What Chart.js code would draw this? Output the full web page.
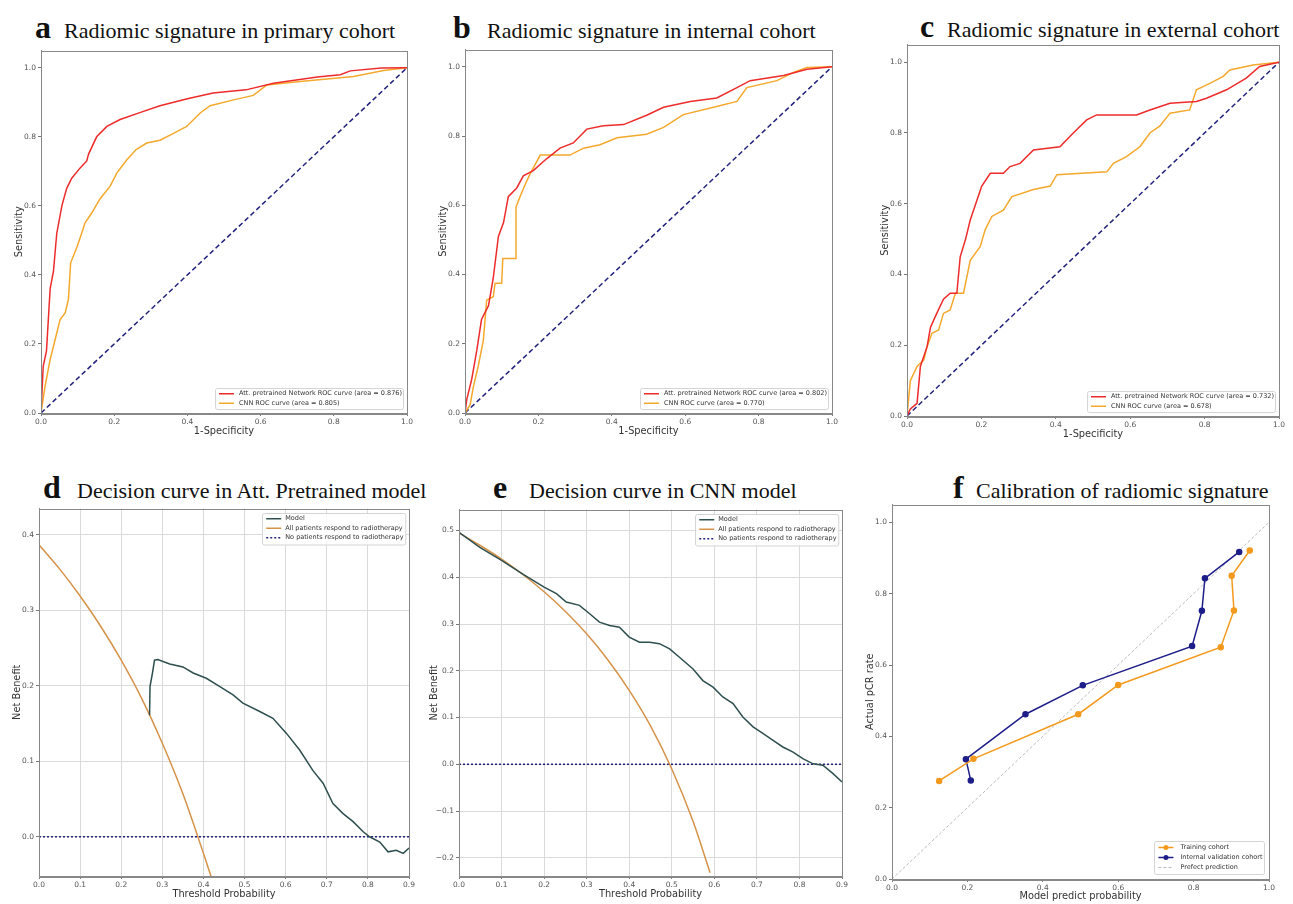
<!DOCTYPE html>
<html>
<head>
<meta charset="utf-8">
<script src="https://cdn.jsdelivr.net/npm/chart.js@4.4.0/dist/chart.umd.min.js"></script>
<style>
  body { margin: 0; background: #fff; width: 1293px; height: 904px; position: relative; overflow: hidden; }
  .panel { position: absolute; }
  .letter, .ttl { position: absolute; font-family: "Liberation Serif", serif; color: #111; white-space: nowrap; line-height: 1; }
  .letter { font-size: 32px; font-weight: bold; }
  .ttl { font-size: 22px; }
</style>
</head>
<body>
<script>
// ---- ROC curves ----
var aAttFpr = [0, 0.006, 0.015, 0.025, 0.034, 0.043, 0.057, 0.07, 0.084, 0.107, 0.125, 0.13, 0.152, 0.18, 0.216, 0.27, 0.325, 0.40, 0.47, 0.56, 0.635, 0.755, 0.818, 0.845, 0.93, 1];
var aAttTpr = [0, 0.135, 0.18, 0.36, 0.41, 0.52, 0.60, 0.65, 0.68, 0.71, 0.73, 0.75, 0.80, 0.83, 0.85, 0.87, 0.89, 0.91, 0.927, 0.936, 0.955, 0.973, 0.98, 0.991, 0.999, 1];
var aCnnFpr = [0, 0.011, 0.025, 0.038, 0.052, 0.066, 0.075, 0.081, 0.098, 0.111, 0.12, 0.139, 0.161, 0.189, 0.207, 0.234, 0.26, 0.289, 0.325, 0.362, 0.398, 0.435, 0.462, 0.526, 0.58, 0.617, 0.708, 0.854, 0.936, 1];
var aCnnTpr = [0, 0.077, 0.155, 0.21, 0.27, 0.29, 0.33, 0.435, 0.48, 0.52, 0.55, 0.58, 0.62, 0.657, 0.695, 0.733, 0.763, 0.782, 0.79, 0.81, 0.83, 0.869, 0.89, 0.907, 0.92, 0.95, 0.96, 0.975, 0.992, 1];

var bAttFpr = [0, 0.005, 0.018, 0.032, 0.045, 0.064, 0.077, 0.091, 0.105, 0.118, 0.141, 0.159, 0.186, 0.223, 0.259, 0.295, 0.332, 0.377, 0.432, 0.495, 0.541, 0.614, 0.686, 0.741, 0.777, 0.868, 0.932, 1];
var bAttTpr = [0, 0.04, 0.096, 0.18, 0.27, 0.31, 0.39, 0.51, 0.55, 0.625, 0.65, 0.685, 0.70, 0.735, 0.765, 0.78, 0.82, 0.83, 0.833, 0.86, 0.883, 0.90, 0.91, 0.94, 0.96, 0.975, 0.993, 1];
var bCnnFpr = [0, 0.014, 0.023, 0.036, 0.05, 0.059, 0.077, 0.082, 0.1, 0.103, 0.139, 0.139, 0.15, 0.164, 0.177, 0.205, 0.286, 0.323, 0.368, 0.414, 0.495, 0.541, 0.595, 0.677, 0.741, 0.768, 0.85, 0.895, 0.932, 1];
var bCnnTpr = [0, 0.024, 0.077, 0.135, 0.21, 0.326, 0.336, 0.375, 0.375, 0.446, 0.446, 0.595, 0.625, 0.66, 0.69, 0.745, 0.745, 0.765, 0.775, 0.795, 0.805, 0.825, 0.862, 0.883, 0.90, 0.94, 0.96, 0.984, 0.998, 1];

var cAttFpr = [0, 0.009, 0.027, 0.036, 0.054, 0.063, 0.08, 0.098, 0.116, 0.134, 0.143, 0.157, 0.17, 0.188, 0.201, 0.224, 0.259, 0.277, 0.304, 0.34, 0.411, 0.447, 0.483, 0.51, 0.617, 0.653, 0.707, 0.778, 0.805, 0.859, 0.912, 0.948, 1];
var cAttTpr = [0, 0.02, 0.036, 0.14, 0.196, 0.25, 0.29, 0.33, 0.347, 0.347, 0.45, 0.498, 0.554, 0.61, 0.65, 0.686, 0.686, 0.705, 0.714, 0.752, 0.761, 0.80, 0.837, 0.851, 0.851, 0.865, 0.884, 0.889, 0.898, 0.922, 0.955, 0.988, 1];
var cCnnFpr = [0, 0.009, 0.027, 0.045, 0.054, 0.067, 0.085, 0.098, 0.116, 0.13, 0.152, 0.17, 0.197, 0.21, 0.228, 0.259, 0.282, 0.34, 0.385, 0.403, 0.537, 0.555, 0.59, 0.626, 0.653, 0.68, 0.707, 0.76, 0.778, 0.814, 0.85, 0.868, 0.93, 1];
var cCnnTpr = [0, 0.10, 0.14, 0.158, 0.196, 0.234, 0.243, 0.29, 0.30, 0.347, 0.347, 0.44, 0.479, 0.526, 0.564, 0.582, 0.62, 0.64, 0.65, 0.682, 0.69, 0.714, 0.733, 0.761, 0.80, 0.82, 0.856, 0.865, 0.922, 0.94, 0.96, 0.978, 0.992, 1];

var chanceX = [0, 1];
var chanceY = [0, 1];

// ---- decision curves ----
var dThr = [0, 0.05, 0.1, 0.15, 0.2, 0.25, 0.3, 0.35, 0.4, 0.42];
var dAll = [0.387, 0.355, 0.319, 0.279, 0.234, 0.183, 0.124, 0.057, -0.022, -0.055];
var dModelThr = [0.269, 0.27, 0.276, 0.281, 0.289, 0.318, 0.35, 0.375, 0.407, 0.44, 0.472, 0.496, 0.537, 0.569, 0.602, 0.634, 0.666, 0.691, 0.715, 0.739, 0.764, 0.788, 0.804, 0.829, 0.849, 0.869, 0.886, 0.9];
var dModelNB = [0.161, 0.199, 0.217, 0.234, 0.235, 0.229, 0.225, 0.217, 0.21, 0.199, 0.188, 0.177, 0.166, 0.157, 0.137, 0.115, 0.088, 0.071, 0.044, 0.031, 0.02, 0.007, 0, -0.007, -0.02, -0.018, -0.022, -0.015];

var eThr = [0, 0.05, 0.1, 0.15, 0.2, 0.25, 0.3, 0.35, 0.4, 0.45, 0.5, 0.55, 0.59];
var eAll = [0.495, 0.468, 0.439, 0.406, 0.369, 0.327, 0.279, 0.223, 0.158, 0.082, -0.01, -0.122, -0.232];
var eModelThr = [0, 0.049, 0.1, 0.15, 0.2, 0.229, 0.252, 0.283, 0.307, 0.33, 0.354, 0.377, 0.4, 0.424, 0.448, 0.471, 0.495, 0.518, 0.55, 0.573, 0.597, 0.62, 0.644, 0.667, 0.691, 0.714, 0.738, 0.761, 0.785, 0.808, 0.832, 0.855, 0.879, 0.9];
var eModelNB = [0.496, 0.464, 0.436, 0.407, 0.379, 0.365, 0.347, 0.34, 0.322, 0.304, 0.297, 0.293, 0.272, 0.261, 0.261, 0.258, 0.247, 0.229, 0.204, 0.179, 0.165, 0.144, 0.13, 0.101, 0.08, 0.066, 0.051, 0.037, 0.026, 0.012, 0.001, -0.002, -0.02, -0.038];

var noneX = [0, 0.9];
var noneY = [0, 0];

// ---- calibration ----
var fTrainPred = [0.125, 0.216, 0.494, 0.6, 0.872, 0.907, 0.901, 0.949];
var fTrainObs = [0.275, 0.337, 0.462, 0.544, 0.65, 0.753, 0.85, 0.921];
var fValPred = [0.209, 0.196, 0.354, 0.506, 0.796, 0.822, 0.83, 0.921];
var fValObs = [0.276, 0.336, 0.462, 0.543, 0.653, 0.752, 0.843, 0.917];

// ---- ticks ----
var rocTicks = [0, 0.2, 0.4, 0.6, 0.8, 1.0];
var dcaXTicks = [0, 0.1, 0.2, 0.3, 0.4, 0.5, 0.6, 0.7, 0.8, 0.9];
var dYTicks = [0, 0.1, 0.2, 0.3, 0.4];
var eYTicks = [-0.2, -0.1, 0, 0.1, 0.2, 0.3, 0.4, 0.5];

var RED = '#ee2b2b', ORANGE = '#f4a82c', NAVY = '#23237e', SLATE = '#2f4f4f', TAN = '#d59249';

function pts(xs, ys) { return xs.map(function (x, i) { return { x: x, y: ys[i] }; }); }
function fmt(v) { return v < 0 ? '\u2212' + Math.abs(v).toFixed(1) : v.toFixed(1); }

function line(label, xs, ys, color, extra) {
  var d = { label: label, data: pts(xs, ys), borderColor: color, backgroundColor: color,
    borderWidth: 1.5, pointRadius: 0, showLine: true, fill: false };
  for (var k in extra) d[k] = extra[k];
  return d;
}

function axis(horiz, min, max, ticks, title, grid, size) {
  return {
    type: 'linear', min: min, max: max,
    afterBuildTicks: function (s) { s.ticks = ticks.map(function (v) { return { value: v }; }); },
    afterFit: function (s) { if (horiz) s.height = size; else s.width = size; },
    ticks: { font: { size: 7.5, family: 'DejaVu Sans' }, color: '#555', padding: 2, autoSkip: false, maxRotation: 0,
      callback: function (v) { return fmt(v); } },
    grid: { drawOnChartArea: grid, color: '#dadada', tickLength: 3, tickColor: '#777' },
    border: { color: '#888' },
    title: { display: true, text: title, font: { size: 9.8, family: 'DejaVu Sans' }, color: '#333', padding: { top: 0, bottom: 0 } }
  };
}

// frame round the plot and a matplotlib-like legend inside it
var framePlugin = {
  id: 'framePlugin',
  afterDraw: function (chart, args, o) {
    var ctx = chart.ctx, a = chart.chartArea;
    ctx.save();
    ctx.strokeStyle = '#888'; ctx.lineWidth = 1;
    ctx.strokeRect(Math.round(a.left) + 0.5, Math.round(a.top) + 0.5, Math.round(a.right - a.left), Math.round(a.bottom - a.top));
    var items = chart.data.datasets.filter(function (d) { return d.label; });
    ctx.font = o.size + 'px "DejaVu Sans"';
    var tw = Math.max.apply(null, items.map(function (d) { return ctx.measureText(d.label).width; }));
    var w = o.pad * 2 + o.line + o.gap + tw + 3, h = o.pad * 2 + items.length * o.row;
    var x = o.corner[1] === 'r' ? a.right - o.margin - w : a.left + o.margin;
    var y = o.corner[0] === 'b' ? a.bottom - o.margin - h : a.top + o.margin;
    ctx.fillStyle = 'rgba(255,255,255,0.85)'; ctx.strokeStyle = '#d4d4d4';
    ctx.beginPath(); ctx.roundRect(Math.round(x) + 0.5, Math.round(y) + 0.5, w, h, 2); ctx.fill(); ctx.stroke();
    items.forEach(function (d, i) {
      var cy = y + o.pad + o.row * i + o.row / 2;
      ctx.strokeStyle = d.borderColor; ctx.lineWidth = d.borderWidth;
      ctx.setLineDash(d.borderDash || []);
      ctx.beginPath(); ctx.moveTo(x + o.pad + 3, cy); ctx.lineTo(x + o.pad + 3 + o.line, cy); ctx.stroke();
      ctx.setLineDash([]);
      if (d.pointRadius > 0) {
        ctx.fillStyle = d.borderColor;
        ctx.beginPath(); ctx.arc(x + o.pad + 3 + o.line / 2, cy, d.pointRadius, 0, Math.PI * 2); ctx.fill();
      }
      ctx.fillStyle = '#333'; ctx.textBaseline = 'middle';
      ctx.fillText(d.label, x + o.pad + 3 + o.line + o.gap, cy);
    });
    ctx.restore();
  }
};

var rocLegend = { corner: 'br', size: 6.5, pad: 1, row: 9.5, line: 15, gap: 5, margin: 4 };
var dcaLegend = { corner: 'tr', size: 6.5, pad: 1.5, row: 9.5, line: 15, gap: 4, margin: 4 };

// L/R/T/B: plot area edges on the page, yw/xh: room for the axes
var panels = [
  { L: 41, R: 407, T: 50, B: 413, yw: 27, xh: 24, letter: 'a', lx: 35, tx: 64, base: 38, title: 'Radiomic signature in primary cohort',
    x: axis(true, 0, 1, rocTicks, '1-Specificity', false, 24), y: axis(false, 0, 1.05, rocTicks, 'Sensitivity', false, 27),
    legend: rocLegend,
    sets: [line('Att. pretrained Network ROC curve (area = 0.876)', aAttFpr, aAttTpr, RED),
      line('CNN ROC curve (area = 0.805)', aCnnFpr, aCnnTpr, ORANGE),
      line('', chanceX, chanceY, NAVY, { borderDash: [5, 3] })] },
  { L: 465, R: 832, T: 49, B: 413, yw: 27, xh: 24, letter: 'b', lx: 453, tx: 487, base: 38, title: 'Radiomic signature in internal cohort',
    x: axis(true, 0, 1, rocTicks, '1-Specificity', false, 24), y: axis(false, 0, 1.05, rocTicks, 'Sensitivity', false, 27),
    legend: rocLegend,
    sets: [line('Att. pretrained Network ROC curve (area = 0.802)', bAttFpr, bAttTpr, RED),
      line('CNN ROC curve (area = 0.770)', bCnnFpr, bCnnTpr, ORANGE),
      line('', chanceX, chanceY, NAVY, { borderDash: [5, 3] })] },
  { L: 907, R: 1279, T: 44, B: 416, yw: 27, xh: 24, letter: 'c', lx: 920, tx: 947, base: 37, title: 'Radiomic signature in external cohort',
    x: axis(true, 0, 1, rocTicks, '1-Specificity', false, 24), y: axis(false, 0, 1.05, rocTicks, 'Sensitivity', false, 27),
    legend: rocLegend,
    sets: [line('Att. pretrained Network ROC curve (area = 0.732)', cAttFpr, cAttTpr, RED),
      line('CNN ROC curve (area = 0.678)', cCnnFpr, cCnnTpr, ORANGE),
      line('', chanceX, chanceY, NAVY, { borderDash: [5, 3] })] },
  { L: 39, R: 409, T: 508, B: 876, yw: 27, xh: 24, letter: 'd', lx: 43, tx: 77, base: 498, title: 'Decision curve in Att. Pretrained model',
    x: axis(true, 0, 0.9, dcaXTicks, 'Threshold Probability', true, 24), y: axis(false, -0.052, 0.435, dYTicks, 'Net Benefit', true, 27),
    legend: dcaLegend,
    sets: [line('Model', dModelThr, dModelNB, SLATE),
      line('All patients respond to radiotherapy', dThr, dAll, TAN, { cubicInterpolationMode: 'monotone' }),
      line('No patients respond to radiotherapy', noneX, noneY, NAVY, { borderDash: [2, 2] })] },
  { L: 459, R: 842, T: 509, B: 876, yw: 30, xh: 24, letter: 'e', lx: 493, tx: 529, base: 498, title: 'Decision curve in CNN model',
    x: axis(true, 0, 0.9, dcaXTicks, 'Threshold Probability', true, 24), y: axis(false, -0.239, 0.545, eYTicks, 'Net Benefit', true, 30),
    legend: dcaLegend,
    sets: [line('Model', eModelThr, eModelNB, SLATE),
      line('All patients respond to radiotherapy', eThr, eAll, TAN, { cubicInterpolationMode: 'monotone' }),
      line('No patients respond to radiotherapy', noneX, noneY, NAVY, { borderDash: [2, 2] })] },
  { L: 892, R: 1269, T: 504, B: 879, yw: 27, xh: 23, letter: 'f', lx: 953, tx: 976, base: 498, title: 'Calibration of radiomic signature',
    x: axis(true, 0, 1, rocTicks, 'Model predict probability', false, 23), y: axis(false, 0, 1.05, rocTicks, 'Actual pCR rate', false, 27),
    legend: { corner: 'br', size: 6.5, pad: 1.5, row: 10, line: 15, gap: 7, margin: 5 },
    sets: [line('Training cohort', fTrainPred, fTrainObs, '#f39a1e', { pointRadius: 2.5 }),
      line('Internal validation cohort', fValPred, fValObs, '#1e1e8a', { pointRadius: 2.5 }),
      line('Prefect prediction', chanceX, chanceY, '#aaaaaa', { borderDash: [3, 2], borderWidth: 0.8 })] }
];

var PT = 6, PR = 8;
panels.forEach(function (p) {
  var l = document.createElement('span'); l.className = 'letter'; l.textContent = p.letter;
  l.style.left = p.lx + 'px'; l.style.top = (p.base - 27) + 'px'; document.body.appendChild(l);
  var t = document.createElement('span'); t.className = 'ttl'; t.textContent = p.title;
  t.style.left = p.tx + 'px'; t.style.top = (p.base - 18) + 'px'; document.body.appendChild(t);

  var div = document.createElement('div'); div.className = 'panel';
  div.style.left = (p.L - p.yw) + 'px'; div.style.top = (p.T - PT) + 'px';
  div.style.width = (p.R - p.L + p.yw + PR) + 'px'; div.style.height = (p.B - p.T + PT + p.xh) + 'px';
  var cv = document.createElement('canvas'); div.appendChild(cv); document.body.appendChild(div);

  new Chart(cv, {
    type: 'scatter',
    data: { datasets: p.sets },
    options: {
      responsive: true, maintainAspectRatio: false, animation: false,
      layout: { padding: { top: PT, right: PR, left: 0, bottom: 0 } },
      scales: { x: p.x, y: p.y },
      plugins: { legend: { display: false }, tooltip: { enabled: false }, framePlugin: p.legend }
    },
    plugins: [framePlugin]
  });
});
</script>
</body>
</html>
